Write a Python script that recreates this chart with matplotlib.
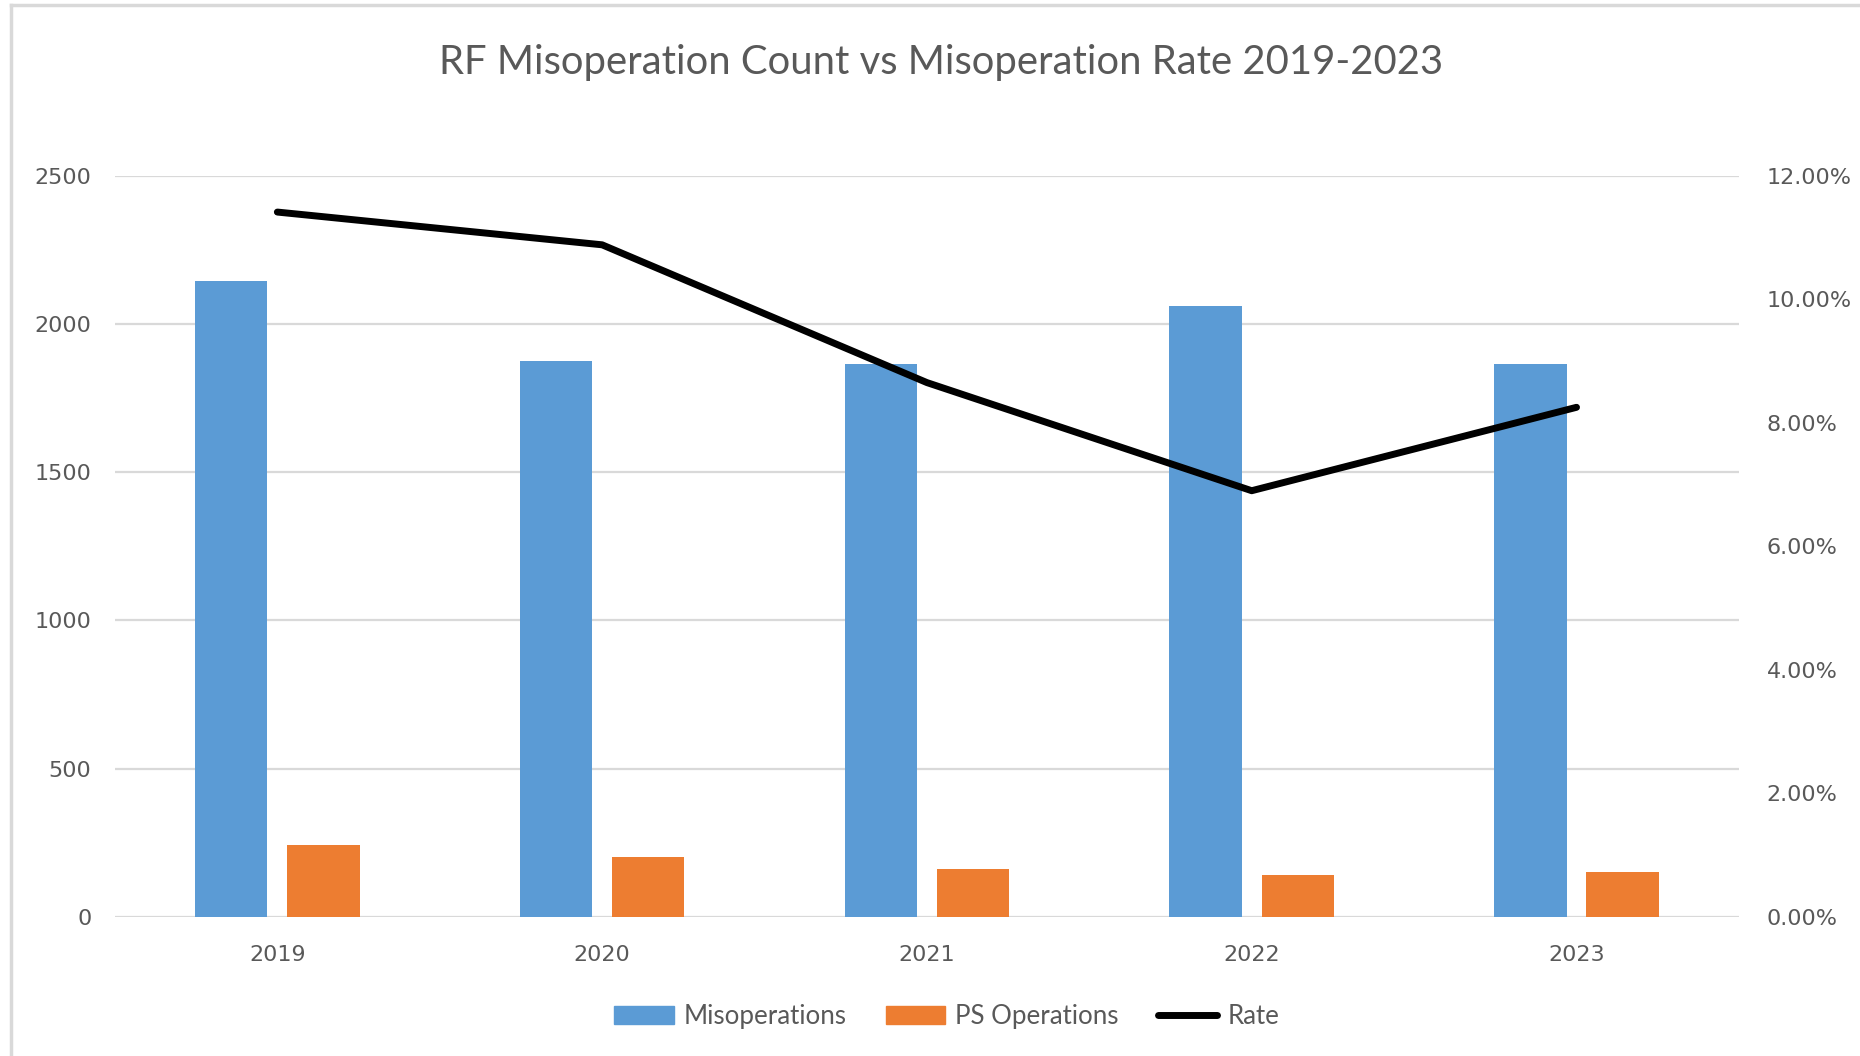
import matplotlib.pyplot as plt
from matplotlib.lines import Line2D
from matplotlib.patches import Patch
from matplotlib.ticker import FuncFormatter
import numpy as np

years = ['2019', '2020', '2021', '2022', '2023']
misoperations = [2145, 1876, 1865, 2060, 1865]
ps_operations = [244, 204, 162, 142, 153]
rate = [11.41, 10.88, 8.65, 6.90, 8.25]  # percent

BLUE = '#5B9BD5'
ORANGE = '#ED7D31'
GRID = '#D9D9D9'
TXT = '#595959'

fig = plt.figure(figsize=(18.6, 10.56), dpi=100)
ax = fig.add_axes([0.0618, 0.1316, 0.8731, 0.7021])
ax2 = ax.twinx()

x = np.arange(len(years))
w = 0.223
ax.bar(x - 0.142, misoperations, w, color=BLUE, zorder=2)
ax.bar(x + 0.142, ps_operations, w, color=ORANGE, zorder=2)

ax2.plot(x, rate, color='black', lw=5, solid_capstyle='round',
         solid_joinstyle='round', zorder=3)

ax.set_xlim(-0.5, 4.5)
ax.set_ylim(0, 2500)
ax.set_yticks(range(0, 2501, 500))
ax2.set_ylim(0, 12)
ax2.set_yticks(range(0, 13, 2))
ax2.yaxis.set_major_formatter(FuncFormatter(lambda v, p: f'{v:.2f}%'))

ax.set_xticks(x)
ax.set_xticklabels(years)
ax.grid(axis='y', color=GRID, lw=1.6, zorder=0)
ax.set_axisbelow(True)

for a in (ax, ax2):
    for s in a.spines.values():
        s.set_visible(False)
    a.tick_params(length=0, labelsize=16, labelcolor=TXT)
ax.tick_params(axis='x', pad=20)
ax.tick_params(axis='y', pad=17)
ax2.tick_params(axis='y', pad=20)
ax2.patch.set_visible(False)

fig.text(0.506, 0.930, 'RF Misoperation Count vs Misoperation Rate 2019-2023',
         ha='center', va='baseline', fontsize=28.8, color=TXT, family='Lato')

handles = [Patch(color=BLUE, label='Misoperations'),
           Patch(color=ORANGE, label='PS Operations'),
           Line2D([], [], color='black', lw=5, solid_capstyle='round', label='Rate')]
fig.legend(handles=handles, loc='center', bbox_to_anchor=(0.509, 0.037), ncol=3,
           frameon=False, handlelength=2.3, handletextpad=0.4, columnspacing=1.5,
           prop={'family': 'Lato', 'size': 18.6}, labelcolor=TXT)

# light frame edges on top and left
fig.add_artist(Line2D([11 / 1860, 1], [0.995, 0.995], color=GRID, lw=2.5))
fig.add_artist(Line2D([11 / 1860, 11 / 1860], [0, 0.995], color=GRID, lw=2.5))

fig.savefig('out.png', dpi=100)
